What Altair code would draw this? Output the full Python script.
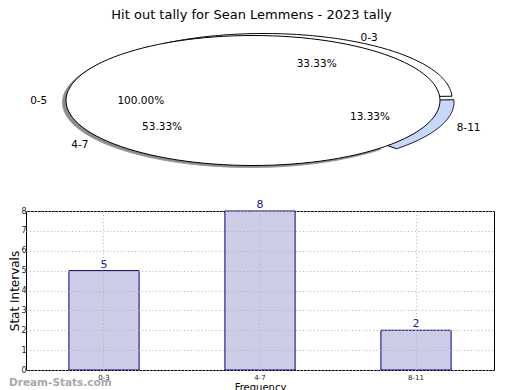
import altair as alt
import numpy as np
import pandas as pd

TITLE = "Hit out tally for Sean Lemmens - 2023 tally"

# ---------------- data ----------------
categories = ["0-3", "4-7", "8-11"]
counts = [5, 8, 2]
y_ticks = [0, 1, 2, 3, 4, 5, 6, 7, 8]

pie_labels = ["0-3", "4-7", "8-11", "0-5"]
pie_pcts = [33.33, 53.33, 13.33, 100.00]

# ---------------- layout / style ----------------
FONT = "DejaVu Sans"
PLOT_W = 468
PIE_H = 173
PIE_LEFT, PIE_TOP = 26, 22.5       # page position of the pie panel (aligned with bar plot)
CX, CY = 253, 99                   # ellipse centre (page px)
RX, RY = 187, 65                   # main ellipse radii
N = 120                            # outline resolution
START_PARTS = 88                   # degrees clockwise from 12 o'clock
START_TOTAL = 90
GRID = "#b4b4b4"

# how each pie piece is drawn: rx, ry, shift x, shift y, fill, stroke
piece = {
    "4-7": (188, 65, -2.5, 2.0, "#8c8c8c", "#9a9a9a"),
    "0-3": (188, 65, 11, -2, "white", "black"),
    "8-11": (188, 65, 13, 1.5, "#c6d9fd", "black"),
    "0-5": (187, 65, 0, 0, "white", "black"),
}

pie_df = pd.DataFrame({"label": pie_labels, "pct": pie_pcts})
is_part = pie_df["label"] != "0-5"
cum_before = pie_df["pct"].where(is_part, 0).cumsum() - pie_df["pct"].where(is_part, 0)
pie_df["a1"] = np.where(is_part, START_PARTS - cum_before * 3.6, START_TOTAL)
pie_df["a0"] = pie_df["a1"] - pie_df["pct"] * 3.6
pie_df["sx"] = [piece[l][2] for l in pie_labels]
pie_df["sy"] = [piece[l][3] for l in pie_labels]

xs = alt.Scale(domain=[PIE_LEFT, PIE_LEFT + PLOT_W], nice=False, zero=False)
ys = alt.Scale(domain=[PIE_TOP, PIE_TOP + PIE_H], nice=False, zero=False, reverse=True)


def piece_layer(label):
    rx, ry, dx, dy, fill, stroke = piece[label]
    full = label == "0-5"
    seq = f"sequence(0, {N + 1})" if full else f"sequence(-1, {N + 2})"
    return (
        alt.Chart(pie_df)
        .transform_filter(alt.datum.label == label)
        .transform_calculate(t=seq)
        .transform_flatten(["t"])
        .transform_calculate(inside=f"datum.t >= 0 && datum.t <= {N}")
        .transform_calculate(
            ang=f"(datum.a0 + (datum.a1 - datum.a0) * clamp(datum.t, 0, {N}) / {N}) * PI / 180"
        )
        .transform_calculate(px=f"{CX + dx} + (datum.inside ? {rx} : 0) * sin(datum.ang)")
        .transform_calculate(py=f"{CY + dy} - (datum.inside ? {ry} : 0) * cos(datum.ang)")
        .mark_line(fill=fill, stroke=stroke, strokeWidth=1, strokeJoin="round")
        .encode(
            x=alt.X("px:Q", scale=xs, axis=None),
            y=alt.Y("py:Q", scale=ys, axis=None),
            order=alt.Order("t:Q"),
        )
    )


lab_base = (
    alt.Chart(pie_df)
    .transform_calculate(mid="(datum.a0 + datum.a1) / 2 * PI / 180")
    .transform_calculate(ptxt="format(datum.pct, '.2f') + '%'")
    .transform_calculate(pxp=f"{CX} + datum.sx + {0.6 * RX} * sin(datum.mid)")
    .transform_calculate(pyp=f"{CY} + datum.sy - {0.6 * RY} * cos(datum.mid)")
    .transform_calculate(nx=f"{CX} + datum.sx + {1.1 * RX} * sin(datum.mid)")
    .transform_calculate(ny=f"{CY} + datum.sy - {1.05 * RY} * cos(datum.mid)")
)

pct_text = lab_base.mark_text(fontSize=10.5, color="black", baseline="middle").encode(
    x=alt.X("pxp:Q", scale=xs, axis=None),
    y=alt.Y("pyp:Q", scale=ys, axis=None),
    text="ptxt:N",
)
name_right = (
    lab_base.transform_filter("sin(datum.mid) >= 0")
    .mark_text(fontSize=10.5, color="black", align="left", baseline="middle")
    .encode(
        x=alt.X("nx:Q", scale=xs, axis=None),
        y=alt.Y("ny:Q", scale=ys, axis=None),
        text="label:N",
    )
)
name_left = (
    lab_base.transform_filter("sin(datum.mid) < 0")
    .mark_text(fontSize=10.5, color="black", align="right", baseline="middle")
    .encode(
        x=alt.X("nx:Q", scale=xs, axis=None),
        y=alt.Y("ny:Q", scale=ys, axis=None),
        text="label:N",
    )
)

pie = alt.layer(
    piece_layer("4-7"),
    piece_layer("0-3"),
    piece_layer("8-11"),
    piece_layer("0-5"),
    pct_text,
    name_right,
    name_left,
).properties(width=PLOT_W, height=PIE_H, view=alt.ViewBackground(stroke="transparent"))

# ---------------- bar chart ----------------
bar_df = pd.DataFrame({"cat": categories, "count": counts})

xb = alt.X(
    "cat:N",
    sort=categories,
    scale=alt.Scale(paddingInner=0.55, paddingOuter=0.275),
    axis=alt.Axis(
        title="Frequency",
        labelAngle=0,
        labelFontSize=7,
        titleFontSize=10,
        titleFontWeight="normal",
        titlePadding=2,
        labelPadding=3,
        ticks=False,
        domain=False,
        grid=True,
        gridDash=[1, 2.5],
        gridColor=GRID,
        bandPosition=0.5,
        zindex=1,
        labelColor="#222222",
    ),
)
yb = alt.Y(
    "count:Q",
    scale=alt.Scale(domain=[0, 8], nice=False, zero=True),
    axis=alt.Axis(
        title="Stat Intervals",
        values=y_ticks,
        tickCount=9,
        format="d",
        labelFontSize=8,
        labelOverlap=False,
        titleFontSize=12,
        titleFontWeight="normal",
        titlePadding=-1,
        labelPadding=0,
        ticks=False,
        domain=False,
        grid=True,
        gridDash=[1, 2.5],
        gridColor=GRID,
        zindex=1,
        labelColor="#222222",
    ),
)

bars = alt.Chart(bar_df).mark_bar(fill="#ccccE6", stroke="#000080", strokeWidth=1).encode(
    x=xb, y=yb
)
vals = alt.Chart(bar_df).mark_text(
    baseline="bottom", dy=-1, fontSize=11, color="#1a1a9a"
).encode(x=xb, y=yb, text="count:Q")
mark_wm = alt.Chart(pd.DataFrame({"w": ["Dream-Stats.com"]})).mark_text(
    align="left", baseline="middle", fontSize=10.5, fontWeight="bold", color="#9a9a9a", opacity=0.85
).encode(x=alt.value(-17), y=alt.value(172), text="w:N")

barchart = alt.layer(bars, vals, mark_wm).properties(
    width=PLOT_W, height=159, view=alt.ViewBackground(stroke="black", strokeWidth=1)
)

chart = (
    alt.vconcat(pie, barchart, spacing=0)
    .properties(
        padding={"left": 0, "top": 0, "right": 0, "bottom": 0},
        title=alt.TitleParams(
            TITLE, fontSize=13, font=FONT, fontWeight="normal", anchor="middle", offset=2, color="black"
        ),
    )
    .configure(font=FONT)
    .configure_axis(labelFont=FONT, titleFont=FONT)
)

chart.save("out.html", embed_options={"renderer": "svg", "actions": False})
